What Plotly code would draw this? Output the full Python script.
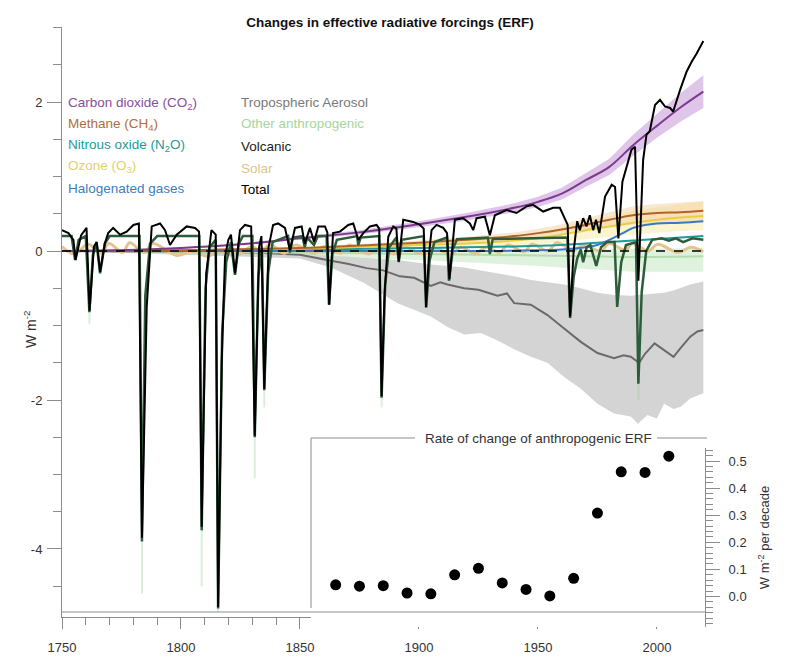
import plotly.graph_objects as go

# values, W m-2

# carbon dioxide, line and shaded range
co2_years = [1750, 1775, 1800, 1825, 1850, 1875, 1900, 1920, 1940, 1950, 1960, 1970, 1980, 1990, 2000, 2010, 2019.5]
co2 = [0, 0.01, 0.04, 0.09, 0.17, 0.25, 0.36, 0.46, 0.58, 0.66, 0.77, 0.95, 1.13, 1.42, 1.68, 1.93, 2.14]
co2_hi = [0, 0.01, 0.05, 0.10, 0.19, 0.28, 0.40, 0.51, 0.64, 0.73, 0.85, 1.04, 1.24, 1.56, 1.84, 2.12, 2.36]
co2_lo = [0, 0.01, 0.03, 0.08, 0.15, 0.22, 0.32, 0.41, 0.52, 0.59, 0.69, 0.86, 1.02, 1.28, 1.52, 1.74, 1.92]

# other well-mixed gases and ozone
ghg_years = [1750, 1800, 1850, 1880, 1900, 1920, 1940, 1950, 1960, 1970, 1980, 1990, 2000, 2010, 2019.5]
ch4 = [0, 0.01, 0.04, 0.08, 0.11, 0.15, 0.20, 0.24, 0.29, 0.35, 0.42, 0.48, 0.51, 0.52, 0.54]
ch4_hi = [0, 0.01, 0.05, 0.10, 0.14, 0.19, 0.25, 0.30, 0.36, 0.44, 0.52, 0.60, 0.63, 0.65, 0.67]
ch4_lo = [0, 0.01, 0.03, 0.06, 0.08, 0.11, 0.15, 0.18, 0.22, 0.26, 0.32, 0.36, 0.38, 0.39, 0.41]
n2o = [0, 0.005, 0.02, 0.03, 0.04, 0.05, 0.06, 0.07, 0.08, 0.10, 0.12, 0.14, 0.16, 0.18, 0.20]
o3 = [0, 0.01, 0.03, 0.06, 0.08, 0.10, 0.14, 0.17, 0.22, 0.28, 0.33, 0.38, 0.42, 0.45, 0.47]
o3_hi = [0, 0.015, 0.05, 0.09, 0.12, 0.15, 0.20, 0.25, 0.32, 0.40, 0.47, 0.54, 0.59, 0.63, 0.66]
o3_lo = [0, 0.005, 0.01, 0.03, 0.04, 0.05, 0.07, 0.09, 0.12, 0.16, 0.19, 0.22, 0.25, 0.27, 0.28]

halo_years = [1750, 1930, 1950, 1960, 1970, 1975, 1980, 1985, 1990, 1995, 2000, 2010, 2019.5]
halo = [0, 0, 0.01, 0.02, 0.05, 0.08, 0.15, 0.23, 0.31, 0.35, 0.37, 0.38, 0.40]

other_years = [1750, 1850, 1900, 1950, 1970, 1990, 2019.5]
other = [0, -0.02, -0.04, -0.06, -0.07, -0.08, -0.07]
other_hi = [0, 0.0, 0.0, 0.01, 0.02, 0.03, 0.04]
other_lo = [0, -0.06, -0.12, -0.20, -0.24, -0.28, -0.28]

# tropospheric aerosol
aer_years = [1750, 1800, 1830, 1850, 1856, 1863, 1870, 1878, 1885, 1892, 1898, 1905, 1909, 1912, 1919,
             1925, 1929, 1933, 1937, 1940, 1947, 1954, 1961, 1968, 1975, 1982, 1986, 1989, 1992.5, 1995,
             1999, 2003, 2007, 2010, 2014, 2017, 2019.5]
aer = [0, -0.01, -0.02, -0.05, -0.09, -0.13, -0.17, -0.23, -0.26, -0.34, -0.36, -0.47, -0.42, -0.45, -0.50,
       -0.52, -0.56, -0.60, -0.57, -0.70, -0.72, -0.86, -1.04, -1.22, -1.37, -1.44, -1.40, -1.42, -1.50, -1.38,
       -1.24, -1.33, -1.42, -1.30, -1.15, -1.08, -1.06]
aer_band_years = [1750, 1850, 1863, 1877, 1891, 1905, 1912, 1919, 1926, 1933, 1940, 1947, 1954, 1961, 1968,
                  1975, 1982, 1989, 1992, 1996, 2000, 2003, 2007, 2010, 2014, 2019.5]
aer_hi = [0, -0.02, -0.06, -0.09, -0.12, -0.18, -0.20, -0.22, -0.26, -0.30, -0.34, -0.39, -0.42, -0.45, -0.50,
          -0.56, -0.59, -0.60, -0.59, -0.58, -0.57, -0.56, -0.53, -0.50, -0.45, -0.41]
aer_lo = [0, -0.10, -0.22, -0.43, -0.70, -0.88, -1.02, -1.12, -1.10, -1.20, -1.32, -1.42, -1.50, -1.69, -1.85,
          -2.05, -2.18, -2.22, -2.32, -2.20, -2.25, -2.05, -2.12, -2.09, -1.98, -1.91]

# solar, cycle maxima and minima
solar = [(1750, 0.06), (1755.2, -0.04), (1761, 0.09), (1766.5, -0.03), (1769.7, 0.10), (1775.5, -0.02),
         (1778.4, 0.11), (1784.7, -0.02), (1788.1, 0.10), (1798.3, -0.06), (1805.2, 0.0), (1810.6, -0.07),
         (1816.4, -0.02), (1823.3, -0.06), (1829.9, 0.06), (1833.9, -0.03), (1837.2, 0.09), (1843.5, -0.03),
         (1848.1, 0.08), (1856, -0.03), (1860.1, 0.06), (1867.2, -0.03), (1870.6, 0.08), (1878.9, -0.04),
         (1883.9, 0.04), (1889.6, -0.04), (1894.1, 0.05), (1901.7, -0.04), (1907, 0.03), (1913.6, -0.04),
         (1917.6, 0.05), (1923.6, -0.03), (1928.4, 0.05), (1933.8, -0.02), (1937.4, 0.08), (1944.2, -0.01),
         (1947.5, 0.09), (1954.3, 0.0), (1957.9, 0.11), (1964.9, 0.01), (1968.9, 0.08), (1976.5, 0.0),
         (1979.9, 0.10), (1986.8, 0.01), (1989.6, 0.10), (1996.4, 0.0), (2000.3, 0.09), (2008.9, -0.02),
         (2014.3, 0.05), (2019.5, -0.01)]

# volcanic
volcanic = [(1750, 0.2), (1754, 0.2), (1755.5, -0.12), (1757, 0.15), (1760, 0.2), (1761.5, -0.82),
            (1763, -0.05), (1764.5, 0.12), (1766, -0.3), (1768, 0.1), (1770, 0.2), (1782.6, 0.2),
            (1783.6, -3.9), (1785, -0.6), (1787, 0.1), (1790, 0.2), (1807.7, 0.2), (1808.7, -3.75),
            (1810.3, -0.5), (1812, 0.05), (1814.6, 0.15), (1815.6, -4.8), (1817.3, -1.1), (1819, -0.15),
            (1821, 0.12), (1822.7, -0.32), (1824.3, 0.1), (1826, 0.2), (1830, 0.2), (1831, -2.5),
            (1832.5, -0.35), (1834, 0.05), (1835, -1.87), (1836.6, -0.3), (1838.5, 0.12), (1845, 0.2),
            (1845.8, -0.02), (1847, 0.18), (1851, 0.2), (1852, 0.05), (1853, 0.18), (1855.9, 0.08),
            (1857.5, 0.2), (1861.2, 0.2), (1862.2, -0.72), (1863.6, -0.05), (1865.5, 0.15), (1874, 0.2),
            (1874.5, 0.08), (1875.5, 0.18), (1883.3, 0.2), (1884.3, -1.97), (1885.8, -0.45), (1887.5, 0.05),
            (1890.5, 0.18), (1891.5, -0.15), (1892.8, 0.15), (1902, 0.2), (1903, -0.76), (1904.5, -0.12),
            (1906.5, 0.12), (1911.8, 0.18), (1912.6, -0.4), (1914.2, 0.02), (1916, 0.16), (1929, 0.18),
            (1929.8, -0.04), (1931, 0.16), (1962.4, 0.18), (1963.5, -0.9), (1965, -0.35), (1966.5, -0.1),
            (1968, 0.02), (1969, -0.15), (1970.5, 0.05), (1972, 0.08), (1974.5, -0.2), (1976.5, 0.05),
            (1979, 0.12), (1982.2, 0.12), (1983.3, -0.75), (1985, -0.15), (1987, 0.08), (1991.2, 0.12),
            (1992.2, -1.78), (1993.6, -0.55), (1995.5, 0.0), (1998, 0.15), (2002, 0.17), (2005, 0.14),
            (2008, 0.17), (2011, 0.12), (2015, 0.17), (2019.5, 0.15)]
# faint lower end of the volcanic range at the big eruptions (year, minimum, lowest)
volcanic_low = [(1761.5, -0.82, -0.98), (1783.6, -3.9, -4.6), (1808.7, -3.75, -4.5), (1815.6, -4.8, -4.85),
                (1831, -2.5, -3.05), (1835, -1.87, -2.1), (1884.3, -1.97, -2.1), (1992.2, -1.78, -2.0)]

# total
total = [(1750, 0.28), (1752.7, 0.24), (1754.8, 0.15), (1755.7, -0.12), (1758, 0.21), (1760.3, 0.31),
         (1761.6, -0.8), (1763.4, 0.06), (1764.6, 0.12), (1766, -0.28), (1768, 0.1), (1769.4, 0.24),
         (1771.5, 0.31), (1774.4, 0.22), (1777.2, 0.26), (1780, 0.35), (1782.3, 0.37), (1783.6, -3.85),
         (1785.6, -0.75), (1787.7, 0.33), (1791.2, 0.37), (1793.3, 0.28), (1795.4, 0.08), (1798.2, 0.22),
         (1802.4, 0.33), (1805.9, 0.31), (1807.6, 0.26), (1808.7, -3.7), (1810.6, -0.3), (1812.8, 0.28),
         (1814.6, 0.22), (1815.6, -4.78), (1817.1, -1.5), (1818.5, -0.08), (1819.9, 0.15), (1821, 0.22),
         (1822.7, -0.3), (1824.8, 0.28), (1826.9, 0.35), (1829.5, 0.33), (1831, -2.48), (1832.8, 0.05),
         (1833.8, 0.2), (1835, -1.85), (1836.8, 0.05), (1838.7, 0.35), (1840.8, 0.37), (1843.7, 0.31),
         (1845.8, 0.01), (1847.9, 0.31), (1850.7, 0.33), (1852, 0.1), (1854.2, 0.31), (1855.9, 0.12),
         (1857.7, 0.33), (1860.5, 0.33), (1861.5, 0.25), (1862.3, -0.72), (1863.9, 0.24), (1866.8, 0.26),
         (1870.3, 0.35), (1872.4, 0.37), (1874.5, 0.15), (1876.6, 0.24), (1879.4, 0.33), (1882.2, 0.35),
         (1883.3, 0.3), (1884.3, -1.95), (1885.5, -0.6), (1887.1, 0.19), (1889.2, 0.33), (1890.5, 0.3),
         (1891.5, -0.14), (1893.4, 0.42), (1897.6, 0.39), (1900.4, 0.35), (1902, 0.3), (1903, -0.75),
         (1904.2, -0.05), (1905.3, 0.28), (1907.4, 0.35), (1910.2, 0.31), (1911.8, 0.24), (1912.8, -0.38),
         (1915.1, 0.42), (1918.6, 0.44), (1921.4, 0.37), (1922.8, 0.28), (1924.2, 0.44), (1927.7, 0.46),
         (1929.8, 0.21), (1931.9, 0.48), (1936.8, 0.55), (1941, 0.51), (1945.2, 0.6), (1948, 0.62),
         (1952.2, 0.53), (1956.4, 0.58), (1959.2, 0.58), (1961.3, 0.42), (1962.5, 0.35), (1963.5, -0.88),
         (1965, 0.0), (1966.5, 0.4), (1967.6, 0.28), (1969, 0.44), (1970.4, 0.33), (1971.8, 0.48),
         (1973.2, 0.28), (1974.4, 0.42), (1975.8, 0.24), (1978.2, 0.73), (1981, 0.89), (1982.4, 0.86),
         (1983.8, 0.17), (1985.5, 0.93), (1987.2, 1.13), (1989.3, 1.36), (1990.8, 1.4), (1992.2, -0.4),
         (1994.2, 1.22), (1995.6, 1.56), (1997, 1.61), (1999.2, 1.96), (2001.3, 2.03), (2003.4, 1.94),
         (2005.5, 1.92), (2006.8, 1.87), (2009.7, 2.16), (2012.5, 2.41), (2014.6, 2.54), (2016.7, 2.65),
         (2019.5, 2.82)]

# inset: rate of change of anthropogenic ERF, W m-2 per decade
decades = [1865, 1875, 1885, 1895, 1905, 1915, 1925, 1935, 1945, 1955, 1965, 1975, 1985, 1995, 2005]
rate = [0.043, 0.038, 0.040, 0.013, 0.010, 0.080, 0.104, 0.050, 0.026, 0.002, 0.067, 0.308, 0.460, 0.458, 0.518]

legend_left = [("Carbon dioxide (CO<sub>2</sub>)", "#8a4e9c"),
               ("Methane (CH<sub>4</sub>)", "#b06e3c"),
               ("Nitrous oxide (N<sub>2</sub>O)", "#1f9a96"),
               ("Ozone (O<sub>3</sub>)", "#e2d16a"),
               ("Halogenated gases", "#3d7dbf")]
legend_right = [("Tropospheric Aerosol", "#7a7a7a"),
                ("Other anthropogenic", "#a6d69e"),
                ("Volcanic", "#1c1c1c"),
                ("Solar", "#dcc48e"),
                ("Total", "#000000")]

FONT = "Liberation Sans, Arial, sans-serif"

# the page puts the figure 8 px in from the window corner, so everything below
# is laid out in window pixels and shifted by that offset
OFF = 8
W, H = 791 - OFF, 662 - OFF
PL, PR, PT, PB = 62, 705, 27, 627          # plot area in window pixels
L, T = PL - OFF, PT - OFF
PW, PH = PR - PL, PB - PT
R, B = W - L - PW, H - T - PH
X0, X1 = 1750, 2020.2                      # year range across the plot width
INSET_LEFT = 311                           # window pixel where the inset panel starts


def px(x):
    return (x - PL) / PW


def py(y):
    return (PB - y) / PH


def band(x, hi, lo, color):
    return go.Scatter(x=list(x) + list(x)[::-1], y=list(hi) + list(lo)[::-1], fill="toself",
                      fillcolor=color, line=dict(width=0), mode="lines", hoverinfo="skip",
                      showlegend=False)


def line(x, y, color, width=2, shape="spline"):
    return go.Scatter(x=x, y=y, mode="lines", line=dict(color=color, width=width, shape=shape),
                      hoverinfo="skip", showlegend=False)


fig = go.Figure()

# shaded ranges
fig.add_trace(band(aer_band_years, aer_hi, aer_lo, "rgba(205,205,205,0.85)"))
fig.add_trace(band(other_years, other_hi, other_lo, "rgba(200,234,200,0.6)"))
fig.add_trace(band(ghg_years, o3_hi, o3_lo, "rgba(246,234,160,0.5)"))
fig.add_trace(band(ghg_years, ch4_hi, ch4_lo, "rgba(242,205,150,0.45)"))
fig.add_trace(band(co2_years, co2_hi, co2_lo, "rgba(196,150,214,0.55)"))

# faint volcanic range below the big eruptions
lx, ly = [], []
for yr, vmin, vlow in volcanic_low:
    lx += [yr, yr, None]
    ly += [vmin, vlow, None]
fig.add_trace(go.Scatter(x=lx, y=ly, mode="lines", line=dict(color="rgba(150,205,150,0.35)", width=2),
                         hoverinfo="skip", showlegend=False))

# lines
fig.add_trace(line(aer_years, aer, "#6a6a6a", 2, "linear"))
fig.add_trace(line(other_years, other, "#b4dcae", 2))
sx, sy = zip(*solar)
fig.add_trace(line(sx, sy, "#e2c48c", 3))
fig.add_trace(line(ghg_years, n2o, "#1f9a96", 2))
fig.add_trace(line(ghg_years, o3, "#e6cf45", 2))
fig.add_trace(line(halo_years, halo, "#3a78c0", 2))
fig.add_trace(line(ghg_years, ch4, "#b5622a", 2))
fig.add_trace(line(co2_years, co2, "#7a3b8e", 2))
vx, vy = zip(*volcanic)
fig.add_trace(line(vx, vy, "#2c5c3a", 2.5, "linear"))
tx, ty = zip(*total)
fig.add_trace(line(tx, ty, "#000000", 2, "linear"))

# inset points (own x axis, same year scale, only over the inset panel)
fig.add_trace(go.Scatter(x=decades, y=rate, mode="markers", xaxis="x2", yaxis="y2",
                         marker=dict(color="black", size=11), hoverinfo="skip", showlegend=False))

axis_col = "#8c8c8c"
tick_font = dict(family=FONT, size=13, color="#333333")
inset_x0 = X0 + (X1 - X0) * px(INSET_LEFT)

fig.update_layout(
    width=W, height=H,
    margin=dict(l=L, r=R, t=T, b=B),
    paper_bgcolor="white", plot_bgcolor="white",
    font=dict(family=FONT, size=13, color="#222222"),
    title=dict(text="<b>Changes in effective radiative forcings (ERF)</b>", x=(390 - OFF) / W,
               xanchor="center", y=1 - (22 - OFF) / H, yanchor="middle", yref="container",
               font=dict(family=FONT, size=13.5, color="#111111")),
    xaxis=dict(range=[X0, X1], domain=[0, 1], anchor="y", showgrid=False, zeroline=False, automargin=False,
               showline=True, linecolor=axis_col, linewidth=1, ticks="outside", ticklen=11,
               tickcolor=axis_col, tickvals=[1750, 1800, 1850, 1900, 1950, 2000], tickfont=tick_font,
               ticklabelstandoff=7,
               minor=dict(dtick=10, ticks="outside", ticklen=7, tickcolor=axis_col, showgrid=False)),
    yaxis=dict(range=[-4.913, 3.007], domain=[py(617), 1], anchor="x", showgrid=False, zeroline=False,
               automargin=False,
               showline=True, linecolor=axis_col, linewidth=1, ticks="outside", ticklen=14,
               tickcolor=axis_col, tickvals=[-4, -2, 0, 2], ticktext=["-4", "-2", "0", "2"],
               tickfont=tick_font, ticklabelstandoff=2,
               minor=dict(dtick=0.5, ticks="outside", ticklen=8, tickcolor=axis_col, showgrid=False)),
    xaxis2=dict(range=[inset_x0, X1], domain=[px(INSET_LEFT), 1], anchor="y2", visible=False,
                automargin=False),
    yaxis2=dict(range=[-0.1125, 0.548], domain=[0, py(448)], anchor="x2", side="right",
                automargin=False,
                showgrid=False, zeroline=False, showline=True, linecolor=axis_col, linewidth=1,
                ticks="outside", ticklen=14, tickcolor=axis_col,
                tickvals=[0, 0.1, 0.2, 0.3, 0.4, 0.5],
                ticktext=["0.0", "0.1", "0.2", "0.3", "0.4", "0.5"], tickfont=tick_font,
                ticklabelstandoff=6,
                title=dict(text="W m<sup>-2</sup> per decade", font=dict(family=FONT, size=13, color="#333333"),
                           standoff=14),
                minor=dict(dtick=0.02, ticks="outside", ticklen=7, tickcolor=axis_col, showgrid=False)),
)

# zero line
fig.add_shape(type="line", xref="x", yref="y", x0=1750, x1=2019.5, y0=0, y1=0,
              line=dict(color="black", width=1.5, dash="dash"))

# inset frame
frame = dict(color=axis_col, width=1)
fig.add_shape(type="line", xref="paper", yref="paper", x0=0, x1=1, y0=py(612), y1=py(612), line=frame)
fig.add_shape(type="line", xref="paper", yref="paper", x0=px(INSET_LEFT), x1=px(INSET_LEFT),
              y0=py(608), y1=py(438), line=frame)
fig.add_shape(type="line", xref="paper", yref="paper", x0=px(INSET_LEFT), x1=px(415), y0=py(438),
              y1=py(438), line=frame)
fig.add_shape(type="line", xref="paper", yref="paper", x0=px(657), x1=px(707), y0=py(438), y1=py(438),
              line=frame)
fig.add_annotation(text="Rate of change of anthropogenic ERF", xref="paper", yref="paper",
                   x=px(538), y=py(438), xanchor="center", yanchor="middle", showarrow=False,
                   font=dict(family=FONT, size=13.5, color="#333333"))

# y axis title
fig.add_annotation(text="W m<sup>-2</sup>", xref="paper", yref="paper", x=px(30), y=py(330),
                   xanchor="center", yanchor="middle", textangle=-90, showarrow=False,
                   font=dict(family=FONT, size=14, color="#333333"))

# legend as coloured text
for i, (txt, col) in enumerate(legend_left):
    fig.add_annotation(text=txt, xref="paper", yref="paper", x=px(66), y=py(103 + 21.3 * i),
                       xanchor="left", yanchor="middle", showarrow=False,
                       font=dict(family=FONT, size=13.5, color=col))
for i, (txt, col) in enumerate(legend_right):
    fig.add_annotation(text=txt, xref="paper", yref="paper", x=px(239), y=py(102 + 22 * i),
                       xanchor="left", yanchor="middle", showarrow=False,
                       font=dict(family=FONT, size=13.5, color=col))

fig.write_html("out.html")
